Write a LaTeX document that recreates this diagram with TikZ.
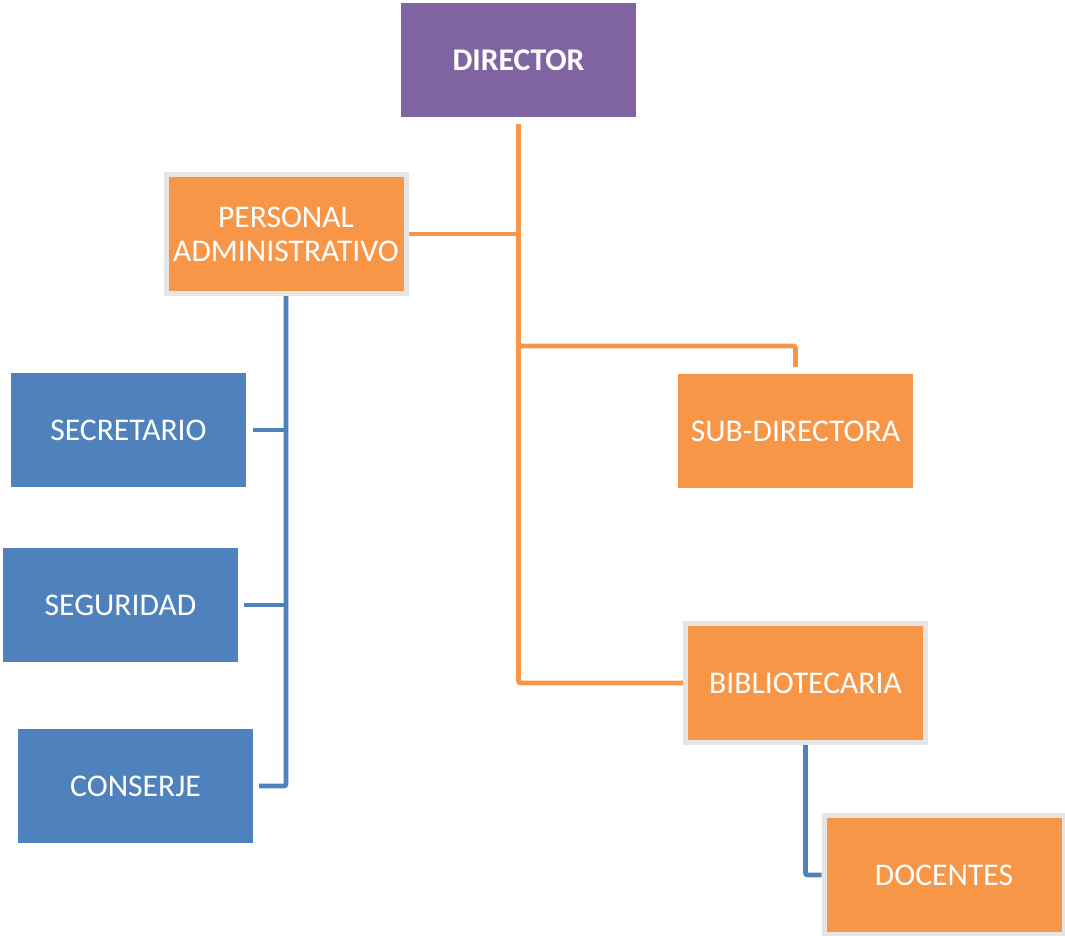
\documentclass[tikz,border=0pt]{standalone}
\usepackage{fontspec}
\setmainfont{Carlito}
\definecolor{cpurple}{HTML}{8064A2}
\definecolor{corange}{HTML}{F79646}
\definecolor{cblue}{HTML}{4F81BD}
\definecolor{cborder}{HTML}{E5E5E5}
\begin{document}
\begin{tikzpicture}[x=1pt,y=-1pt,
  box/.style={rectangle,minimum width=235pt,minimum height=114pt,inner sep=0pt,
    text=white,font=\fontsize{31.6}{34}\selectfont,align=center},
  pbox/.style={box,fill=cpurple},
  obox/.style={box,fill=corange},
  ofbox/.style={box,fill=corange,draw=cborder,line width=5pt,minimum width=240pt,minimum height=119pt},
  bbox/.style={box,fill=cblue},
  oline/.style={draw=corange,line width=4.6pt,rounded corners=2pt},
  bline/.style={draw=cblue,line width=4.6pt,rounded corners=2pt}]
\useasboundingbox (0,0) rectangle (1065,936);
\node[pbox,font=\fontsize{31.6}{34}\selectfont\bfseries] (dir) at (518.5,60) {DIRECTOR};
\node[ofbox] (pa) at (286,234) {PERSONAL\\ADMINISTRATIVO};
\node[obox] (sub) at (795.5,431) {SUB-DIRECTORA};
\node[ofbox] (bib) at (805.5,683) {BIBLIOTECARIA};
\node[ofbox] (doc) at (944,875) {DOCENTES};
\node[bbox] (sec) at (128.5,430) {SECRETARIO};
\node[bbox] (seg) at (120.5,605) {SEGURIDAD};
\node[bbox] (con) at (135.5,786) {CONSERJE};
\coordinate (j2) at (519,346);
% orange connectors
\draw[oline] ([yshift=-7pt]dir.south) -- (dir.south |- bib.west) -- (bib.west);
\draw[oline] (pa.east) -- (pa.east -| dir.south);
\draw[oline] (j2) -| ([yshift=7pt]sub.north);
% blue connectors
\draw[bline] (pa.south) -- (pa.south |- con.east) -- ([xshift=6pt]con.east);
\draw[bline] ([xshift=7pt]sec.east) -- (sec.east -| pa.south);
\draw[bline] ([xshift=6pt]seg.east) -- (seg.east -| pa.south);
\draw[bline] (bib.south) -- (bib.south |- doc.west) -- (doc.west);
\end{tikzpicture}
\end{document}
